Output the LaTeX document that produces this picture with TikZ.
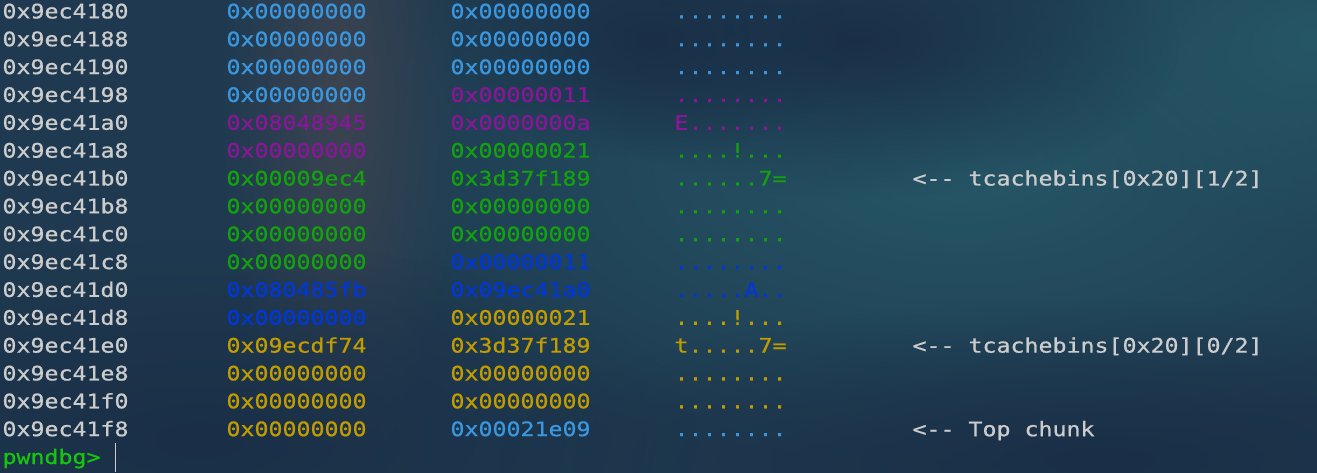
\documentclass[tikz,border=0pt]{standalone}
\usepackage{fontspec}
\usetikzlibrary{fadings}
\newfontfamily\termfont[FakeStretch=1.163,FakeBold=0.7]{DejaVu Sans Mono}
\definecolor{bgbase}{HTML}{1F3A50}
\definecolor{bgteal}{HTML}{265767}
\definecolor{bgdark}{HTML}{1A2F47}
\definecolor{bgwarm}{HTML}{3C4450}
\definecolor{fg}{HTML}{CCCCCC}
\definecolor{lb}{HTML}{3A96DD}
\definecolor{pu}{HTML}{881798}
\definecolor{gr}{HTML}{13A10E}
\definecolor{bl}{HTML}{0037DA}
\definecolor{ye}{HTML}{C19C00}
\definecolor{pr}{HTML}{16C60C}
\tikzfading[name=softspot, inner color=transparent!0, outer color=transparent!100]
\tikzset{
  term/.style={inner sep=0pt, outer sep=0pt, anchor=base west,
    font=\termfont\fontsize{20pt}{24pt}\selectfont},
}
\def\ascdots{........}
\def\ascE{E.......}
\def\ascbang{....!...}
\def\ascseven{......7=}
\def\ascA{.....A..}
\def\asct{t.....7=}
\begin{document}
\begin{tikzpicture}[x=1pt,y=-1pt]
\useasboundingbox (0,0) rectangle (1317,473);
% background
\fill[bgbase] (0,0) rectangle (1317,473);
\fill[bgteal, path fading=softspot] (960,170) ellipse (640 and 300);
\fill[bgteal, path fading=softspot] (1317,40) ellipse (300 and 200);
\fill[bgdark, path fading=softspot] (860,40) ellipse (320 and 160);
\fill[bgdark, path fading=softspot] (650,40) ellipse (200 and 120);
\fill[bgwarm, path fading=softspot] (340,100) ellipse (120 and 380);
\fill[bgdark, path fading=softspot] (200,440) ellipse (500 and 200);
\fill[bgdark, path fading=softspot] (1100,460) ellipse (600 and 160);
% rows
\foreach \i/\a/\ca/\va/\cb/\vb/\cc/\s in {
 1/0x9ec4180/lb/0x00000000/lb/0x00000000/lb/\ascdots,
 2/0x9ec4188/lb/0x00000000/lb/0x00000000/lb/\ascdots,
 3/0x9ec4190/lb/0x00000000/lb/0x00000000/lb/\ascdots,
 4/0x9ec4198/lb/0x00000000/pu/0x00000011/pu/\ascdots,
 5/0x9ec41a0/pu/0x08048945/pu/0x0000000a/pu/\ascE,
 6/0x9ec41a8/pu/0x00000000/gr/0x00000021/gr/\ascbang,
 7/0x9ec41b0/gr/0x00009ec4/gr/0x3d37f189/gr/\ascseven,
 8/0x9ec41b8/gr/0x00000000/gr/0x00000000/gr/\ascdots,
 9/0x9ec41c0/gr/0x00000000/gr/0x00000000/gr/\ascdots,
 10/0x9ec41c8/gr/0x00000000/bl/0x00000011/bl/\ascdots,
 11/0x9ec41d0/bl/0x080485fb/bl/0x09ec41a0/bl/\ascA,
 12/0x9ec41d8/bl/0x00000000/ye/0x00000021/ye/\ascbang,
 13/0x9ec41e0/ye/0x09ecdf74/ye/0x3d37f189/ye/\asct,
 14/0x9ec41e8/ye/0x00000000/ye/0x00000000/ye/\ascdots,
 15/0x9ec41f0/ye/0x00000000/ye/0x00000000/ye/\ascdots,
 16/0x9ec41f8/ye/0x00000000/lb/0x00021e09/lb/\ascdots}{
  \pgfmathsetmacro\yy{18.4+27.85*(\i-1)}
  \node[term, text=fg] (addr\i) at (2.5,\yy) {\a};
  \node[term, text=\ca] (wa\i) at (226.5,\yy) {\va};
  \node[term, text=\cb] (wb\i) at (450.5,\yy) {\vb};
  \node[term, text=\cc] (asc\i) at (674.5,\yy) {\s};
}
\node[term, text=fg] (c7) at (912.5,185.5) {<-- tcachebins[0x20][1/2]};
\node[term, text=fg] (c13) at (912.5,352.6) {<-- tcachebins[0x20][0/2]};
\node[term, text=fg] (c16) at (912.5,436.2) {<-- Top chunk};
\node[term, text=pr] (prompt) at (2.5,464.0) {pwndbg>};
\draw[fg, line width=1.2pt] (115.5,443) -- (115.5,472);
\end{tikzpicture}
\end{document}
